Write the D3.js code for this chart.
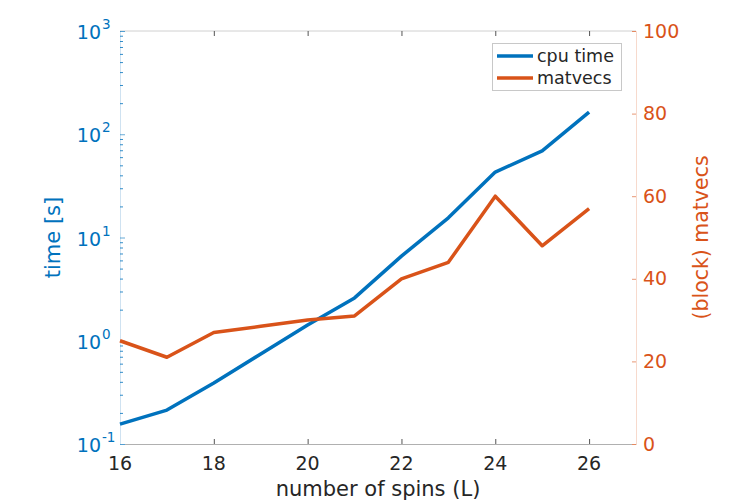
<!DOCTYPE html>
<html>
<head>
<meta charset="utf-8">
<script src="https://cdn.jsdelivr.net/npm/d3@7"></script>
<style>
  body { margin: 0; background: #fff; }
  svg { font-family: "DejaVu Sans", sans-serif; }
</style>
</head>
<body>
<svg width="747" height="501"></svg>
<script>
// data
var spins = [16, 17, 18, 19, 20, 21, 22, 23, 24, 25, 26];
var cpuTime = [0.156, 0.213, 0.39, 0.745, 1.42, 2.6, 6.6, 15.5, 43, 69, 164];
var matvecs = [25, 21, 27, 28.5, 30, 31, 40, 44, 60, 48, 57];
var xTicks = [16, 18, 20, 22, 24, 26];
var leftExps = [-1, 0, 1, 2, 3];
var rightTicks = [0, 20, 40, 60, 80, 100];
var seriesNames = ["cpu time", "matvecs"];

var blue = "#0072BD", orange = "#D95319", grey = "#262626";

var svg = d3.select("svg"),
    pLeft = 120, pRight = 636, pTop = 31, pBottom = 444;

var x = d3.scaleLinear().domain([16, 27]).range([pLeft, pRight]);
var yL = d3.scaleLog().domain([0.1, 1000]).range([pBottom, pTop]);
var yR = d3.scaleLinear().domain([0, 100]).range([pBottom, pTop]);

// box top line
svg.append("line").attr("x1", pLeft).attr("x2", pRight).attr("y1", pTop).attr("y2", pTop)
    .attr("stroke", "#d0d0d0").attr("stroke-width", 1);

// bottom axis (ticks inward)
var xa = svg.append("g").attr("transform", "translate(0," + pBottom + ")")
    .call(d3.axisTop(x).tickValues(xTicks).tickSize(5).tickFormat(""));
xa.select(".domain").attr("stroke", "#b0b0b0");
xa.selectAll(".tick line").attr("stroke", "#555");
// top ticks
var xt = svg.append("g").attr("transform", "translate(0," + pTop + ")")
    .call(d3.axisBottom(x).tickValues(xTicks).tickSize(5).tickFormat(""));
xt.select(".domain").remove();
xt.selectAll(".tick line").attr("stroke", "#555");

svg.selectAll(".xlab").data(xTicks).enter().append("text")
    .attr("x", function(d) { return x(d); })
    .attr("y", 470)
    .attr("text-anchor", "middle")
    .attr("font-size", 19)
    .attr("fill", grey)
    .text(function(d) { return d; });

svg.append("text").attr("x", (pLeft + pRight) / 2).attr("y", 496)
    .attr("text-anchor", "middle").attr("font-size", 21).attr("fill", grey)
    .text("number of spins (L)");

// left log axis
var minor = [];
leftExps.slice(0, -1).forEach(function(e) {
    for (var k = 2; k <= 9; k++) minor.push(k * Math.pow(10, e));
});
var la = svg.append("g").attr("transform", "translate(" + pLeft + ",0)")
    .call(d3.axisRight(yL).tickValues(leftExps.map(function(e) { return Math.pow(10, e); })).tickSize(5).tickFormat(""));
la.select(".domain").attr("stroke", "#cfe2f1");
la.selectAll(".tick line").attr("stroke", blue).attr("stroke-opacity", 0.6);
var lm = svg.append("g").attr("transform", "translate(" + pLeft + ",0)")
    .call(d3.axisRight(yL).tickValues(minor).tickSize(3).tickFormat(""));
lm.select(".domain").remove();
lm.selectAll(".tick line").attr("stroke", blue).attr("stroke-opacity", 0.8);

svg.selectAll(".ylab").data(leftExps).enter().append("text")
    .attr("x", 101)
    .attr("y", function(d) { return yL(Math.pow(10, d)) + 8; })
    .attr("text-anchor", "end")
    .attr("font-size", 19)
    .attr("fill", blue)
    .text("10");
svg.selectAll(".ysup").data(leftExps).enter().append("text")
    .attr("x", 102)
    .attr("y", function(d) { return yL(Math.pow(10, d)) - 2; })
    .attr("font-size", 13.5)
    .attr("fill", blue)
    .text(function(d) { return d < 0 ? "-" + Math.abs(d) : d; });

svg.append("text").attr("transform", "translate(53," + (pTop + pBottom) / 2 + ") rotate(-90)")
    .attr("text-anchor", "middle").attr("dy", "0.35em").attr("font-size", 21).attr("fill", blue)
    .text("time [s]");

// right axis
var ra = svg.append("g").attr("transform", "translate(" + pRight + ",0)")
    .call(d3.axisLeft(yR).tickValues(rightTicks).tickSize(4).tickFormat(""));
ra.select(".domain").attr("stroke", "#f7dacd");
ra.selectAll(".tick line").attr("stroke", orange).attr("stroke-opacity", 0.6);
svg.selectAll(".rlab").data(rightTicks).enter().append("text")
    .attr("x", 643)
    .attr("y", function(d) { return yR(d); })
    .attr("dy", "0.35em")
    .attr("font-size", 19)
    .attr("fill", orange)
    .text(function(d) { return d; });

svg.append("text").attr("transform", "translate(701," + (pTop + pBottom) / 2 + ") rotate(-90)")
    .attr("text-anchor", "middle").attr("dy", "0.35em").attr("font-size", 20.5).attr("fill", orange)
    .text("(block) matvecs");

// lines
var lineL = d3.line().x(function(d, i) { return x(spins[i]); }).y(function(d) { return yL(d); });
var lineR = d3.line().x(function(d, i) { return x(spins[i]); }).y(function(d) { return yR(d); });

svg.append("path").datum(cpuTime).attr("d", lineL)
    .attr("fill", "none").attr("stroke", blue).attr("stroke-width", 3.5).attr("stroke-linejoin", "round");
svg.append("path").datum(matvecs).attr("d", lineR)
    .attr("fill", "none").attr("stroke", orange).attr("stroke-width", 3.5).attr("stroke-linejoin", "round");

// legend
var lg = svg.append("g");
lg.append("rect").attr("x", 492.5).attr("y", 43.5).attr("width", 129).attr("height", 47)
    .attr("fill", "#fff").attr("stroke", "#c8c8c8");
var colors = [blue, orange];
seriesNames.forEach(function(name, i) {
    var yy = 56 + i * 22;
    lg.append("line").attr("x1", 497).attr("x2", 533).attr("y1", yy).attr("y2", yy)
        .attr("stroke", colors[i]).attr("stroke-width", 3.5);
    lg.append("text").attr("x", 537).attr("y", yy).attr("dy", "0.35em")
        .attr("font-size", 17.5).attr("fill", grey).text(name);
});
</script>
</body>
</html>
